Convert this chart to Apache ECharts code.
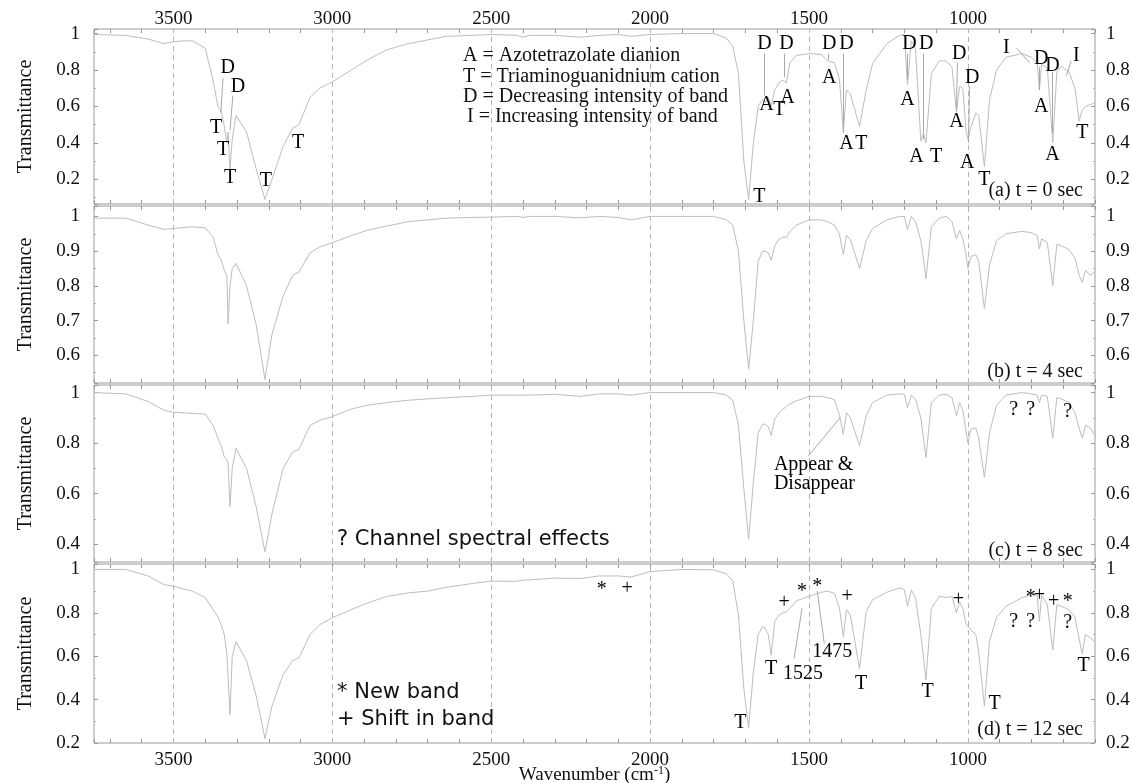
<!DOCTYPE html>
<html><head><meta charset="utf-8">
<script src="https://cdn.jsdelivr.net/npm/echarts@6/dist/echarts.min.js"></script>
<style>html,body{margin:0;padding:0;background:#fff}#c{width:1132px;height:783px}</style>
</head><body><div id="c"></div>
<script>
// ---------------- DATA ----------------
const wavenumbers = [
 3750, 3650, 3580, 3530, 3500, 3470, 3440, 3400, 3375, 3360,
 3350, 3340, 3332, 3328, 3322, 3315, 3303, 3270, 3240, 3212,
 3190, 3155, 3125, 3105, 3070, 3040, 3000, 2940, 2890, 2830,
 2760, 2700, 2640, 2560, 2500, 2420, 2400, 2380, 2300, 2220,
 2160, 2100, 2060, 2000, 1900, 1800, 1760, 1740, 1722, 1705,
 1690, 1675, 1660, 1646, 1638, 1628, 1619, 1608, 1594, 1582,
 1571, 1560, 1540, 1500, 1460, 1442, 1420, 1404, 1392, 1382,
 1370, 1341, 1320, 1300, 1255, 1215, 1200, 1190, 1178, 1165,
 1148, 1140, 1132, 1115, 1090, 1068, 1050, 1036, 1026, 1016,
 1006, 1000, 990, 975, 966, 948, 932, 910, 880, 830,
 800, 782, 775, 768, 750, 733, 720, 706, 682, 663,
 650, 640, 630, 615, 600];

const transA = [
 0.995, 0.99, 0.97, 0.945, 0.955, 0.96, 0.96, 0.92, 0.74, 0.60,
 0.575, 0.49, 0.40, 0.46, 0.25, 0.42, 0.55, 0.46, 0.26, 0.09,
 0.20, 0.38, 0.48, 0.50, 0.65, 0.70, 0.735, 0.80, 0.855, 0.91,
 0.945, 0.965, 0.985, 0.99, 0.995, 0.99, 0.98, 0.99, 0.99, 0.98,
 0.99, 0.995, 0.985, 0.995, 1.0, 1.0, 0.975, 0.93, 0.78, 0.30,
 0.09, 0.40, 0.60, 0.64, 0.62, 0.65, 0.60, 0.69, 0.73, 0.745,
 0.73, 0.84, 0.88, 0.89, 0.885, 0.85, 0.84, 0.745, 0.46, 0.69,
 0.67, 0.49, 0.69, 0.835, 0.945, 0.99, 0.995, 0.72, 0.96, 0.92,
 0.41, 0.45, 0.40, 0.78, 0.85, 0.85, 0.815, 0.57, 0.71, 0.70,
 0.47, 0.42, 0.49, 0.565, 0.55, 0.27, 0.635, 0.80, 0.87, 0.89,
 0.87, 0.84, 0.69, 0.83, 0.81, 0.40, 0.79, 0.82, 0.79, 0.70,
 0.52, 0.58, 0.60, 0.61, 0.62];

const transB = [
 0.995, 0.995, 0.975, 0.963, 0.965, 0.968, 0.97, 0.967, 0.94, 0.89,
 0.875, 0.845, 0.83, 0.69, 0.80, 0.85, 0.865, 0.80, 0.69, 0.53,
 0.66, 0.77, 0.83, 0.84, 0.895, 0.912, 0.924, 0.945, 0.96, 0.972,
 0.985, 0.99, 0.995, 0.997, 0.998, 1.0, 0.997, 1.0, 1.0, 0.996,
 1.0, 0.997, 0.99, 1.0, 1.0, 1.0, 0.99, 0.975, 0.90, 0.70,
 0.56, 0.70, 0.87, 0.90, 0.90, 0.895, 0.873, 0.915, 0.935, 0.94,
 0.94, 0.957, 0.975, 0.99, 0.99, 0.985, 0.975, 0.948, 0.89, 0.945,
 0.934, 0.85, 0.93, 0.965, 0.99, 1.0, 1.0, 0.962, 1.0, 0.985,
 0.93, 0.88, 0.82, 0.97, 0.995, 1.0, 0.985, 0.935, 0.96, 0.935,
 0.89, 0.85, 0.885, 0.89, 0.87, 0.735, 0.86, 0.93, 0.95, 0.957,
 0.953, 0.945, 0.906, 0.935, 0.925, 0.80, 0.92, 0.915, 0.905, 0.88,
 0.83, 0.81, 0.845, 0.83, 0.84];

const transC = [
 1.0, 0.995, 0.965, 0.93, 0.922, 0.92, 0.918, 0.915, 0.87, 0.82,
 0.79, 0.745, 0.735, 0.72, 0.55, 0.70, 0.78, 0.70, 0.55, 0.37,
 0.52, 0.70, 0.765, 0.775, 0.87, 0.89, 0.905, 0.935, 0.95, 0.96,
 0.97, 0.975, 0.98, 0.985, 0.99, 0.99, 0.99, 0.99, 0.993, 0.985,
 0.995, 0.995, 0.99, 1.0, 1.0, 1.0, 0.99, 0.97, 0.87, 0.62,
 0.42, 0.645, 0.84, 0.875, 0.875, 0.865, 0.83, 0.895, 0.92, 0.934,
 0.945, 0.955, 0.967, 0.985, 0.985, 0.98, 0.972, 0.91, 0.835, 0.92,
 0.90, 0.79, 0.91, 0.96, 0.99, 0.995, 0.993, 0.94, 0.99, 0.975,
 0.90, 0.82, 0.743, 0.96, 0.99, 0.993, 0.98, 0.908, 0.96, 0.93,
 0.85, 0.80, 0.855, 0.86, 0.82, 0.665, 0.84, 0.95, 0.99, 1.0,
 0.995, 0.99, 0.96, 0.99, 0.985, 0.82, 0.98, 0.975, 0.96, 0.92,
 0.86, 0.82, 0.87, 0.86, 0.83];

const transD = [
 1.0, 1.0, 0.97, 0.93, 0.923, 0.91, 0.90, 0.87, 0.815, 0.78,
 0.746, 0.70, 0.61, 0.50, 0.33, 0.60, 0.666, 0.58, 0.42, 0.22,
 0.37, 0.515, 0.58, 0.592, 0.70, 0.745, 0.777, 0.815, 0.845, 0.875,
 0.892, 0.90, 0.918, 0.935, 0.946, 0.945, 0.95, 0.952, 0.96, 0.958,
 0.97, 0.97, 0.965, 0.99, 1.0, 0.998, 0.98, 0.946, 0.79, 0.45,
 0.27, 0.527, 0.70, 0.736, 0.73, 0.70, 0.605, 0.76, 0.79, 0.80,
 0.805, 0.82, 0.855, 0.876, 0.895, 0.90, 0.89, 0.82, 0.69, 0.815,
 0.79, 0.543, 0.806, 0.86, 0.895, 0.915, 0.907, 0.83, 0.905, 0.87,
 0.70, 0.60, 0.49, 0.82, 0.876, 0.87, 0.876, 0.80, 0.85, 0.82,
 0.75, 0.744, 0.72, 0.70, 0.62, 0.37, 0.667, 0.78, 0.83, 0.87,
 0.884, 0.88, 0.76, 0.88, 0.837, 0.628, 0.837, 0.83, 0.814, 0.78,
 0.68, 0.61, 0.70, 0.685, 0.667];

const xTickLabels = [3500, 3000, 2500, 2000, 1500, 1000];
const yTickSteps = [0.2, 0.1, 0.2, 0.2];
const yRanges = [[0.065, 1.025], [0.52, 1.03], [0.33, 1.03], [0.2, 1.025]];
const panelTitles = ['(a) t = 0 sec', '(b) t = 4 sec', '(c) t = 8 sec', '(d) t = 12 sec'];
const legendLines = ['A = Azotetrazolate dianion', 'T = Triaminoguanidnium cation',
  'D = Decreasing intensity of band', 'I = Increasing intensity of band'];

// ---------------- ANNOTATIONS (text, wavenumber, transmittance) ----------------
const notesA = [
 ['D',3329,0.81],['D',3297,0.706],['T',3366,0.483],['T',3344,0.363],['T',3322,0.21],['T',3209,0.19],['T',3108,0.40],
 ['D',1640,0.946],['D',1571,0.946],['A',1634,0.61],['T',1593,0.58],['A',1568,0.65],['T',1656,0.107],
 ['D',1436,0.946],['D',1382,0.946],['A',1436,0.76],['A',1382,0.396],['T',1335,0.396],
 ['D',1184,0.946],['D',1131,0.946],['A',1190,0.635],['A',1162,0.325],['T',1100,0.325],
 ['D',1027,0.89],['D',986,0.76],['A',1036,0.515],['A',1002,0.29],['T',948,0.20],
 ['I',879,0.92],['D',769,0.864],['D',734,0.826],['I',659,0.88],['A',769,0.60],['A',734,0.335],['T',640,0.455]];
const leadersA = [
 [3344,0.755,3351,0.565],[3313,0.66,3322,0.47],[1640,0.89,1640,0.66],[1577,0.89,1577,0.76],
 [1440,0.89,1440,0.855],[1392,0.89,1392,0.455],[1190,0.89,1190,0.745],[1140,0.89,1140,0.42],
 [1033,0.84,1036,0.58],[995,0.71,998,0.40],[847,0.92,806,0.84],[775,0.815,775,0.69],
 [734,0.79,734,0.455],[675,0.85,690,0.77]];
const notesC = [['?',856,0.934],['?',802,0.934],['?',686,0.924]];
const appearText = ['Appear &', 'Disappear'];
const appearPos = [[1612,0.715],[1612,0.64]];
const leadersC = [[1502,0.75,1402,0.90]];
const notesD = [
 ['*',2152,0.907],['+',2072,0.91],['+',1578,0.845],['*',1522,0.896],['*',1474,0.922],['+',1380,0.876],
 ['+',1030,0.86],['*',802,0.87],['+',775,0.88],['+',730,0.853],['*',686,0.853],
 ['?',856,0.76],['?',802,0.76],['?',686,0.752],
 ['T',1716,0.295],['T',1619,0.543],['1525',1519,0.52],['1475',1427,0.62],
 ['T',1336,0.473],['T',1127,0.434],['T',916,0.38],['T',636,0.558]];
const leadersD = [[1547,0.59,1522,0.82],[1452,0.66,1474,0.90]];

// ---------------- LAYOUT / STYLE ----------------
const SERIF = "'Liberation Serif', 'Times New Roman', serif";
const SANS = "'DejaVu Sans', Verdana, sans-serif";
const gridBoxes = [{top:29,height:175},{top:206,height:177},{top:385,height:177},{top:564,height:179}];
const spectra = [transA, transB, transC, transD];
const noteSets = [notesA, [], notesC, notesD];
const leaderSets = [leadersA, [], leadersC, leadersD];
const LINE = '#bdbdbd';

function fmtY(step){
  return v => {
    const k = v / step;
    if (Math.abs(k - Math.round(k)) > 1e-6) return '';
    return String(Math.round(v * 100) / 100);
  };
}

const grid = [], xAxis = [], yAxis = [], series = [];
gridBoxes.forEach((g, p) => {
  grid.push({left:94, right:37, top:g.top, height:g.height, show:true, borderColor:'#9a9a9a', borderWidth:1,
    backgroundColor:'#fff', containLabel:false, outerBoundsMode:'none'});
  ['bottom','top'].forEach(pos => {
    const showLab = (p === 0 && pos === 'top') || (p === 3 && pos === 'bottom');
    const ax = {
      type:'value', gridIndex:p, position:pos, min:600, max:3750, interval:100, inverse:true,
      axisLine:{show:false}, splitLine:{show:false},
      axisTick:{show:true, inside:true, length:4, lineStyle:{color:'#9a9a9a'}},
      axisLabel:{show:showLab, margin: pos === 'top' ? 0 : 8, color:'#111', fontFamily:SERIF, fontSize:19,
        formatter: v => xTickLabels.includes(v) ? String(v) : ''}
    };
    if (p === 3 && pos === 'bottom') {
      ax.name = 'Wavenumber (cm{sup|-1})';
      ax.nameLocation = 'middle';
      ax.nameGap = 22;
      ax.nameMoveOverlap = false;
      ax.nameTextStyle = {fontFamily:SERIF, fontSize:19, color:'#111', verticalAlign:'top',
        rich:{sup:{fontFamily:SERIF, fontSize:12, verticalAlign:'top', padding:[0,0,9,0], color:'#111'}}};
    }
    xAxis.push(ax);
  });
  ['left','right'].forEach(pos => {
    const ax = {
      type:'value', gridIndex:p, position:pos, min:yRanges[p][0], max:yRanges[p][1],
      splitNumber: p === 1 ? 5 : (p === 0 ? 5 : 4),
      axisLine:{show:false}, splitLine:{show:false},
      axisTick:{show:true, inside:true, length:4, lineStyle:{color:'#9a9a9a'}},
      minorTick:{show:true, splitNumber:2, length:2, lineStyle:{color:'#b0b0b0'}},
      axisLabel:{show:true, margin: pos === 'left' ? 14 : 11, color:'#111', fontFamily:SERIF, fontSize:19,
        formatter: fmtY(yTickSteps[p])}
    };
    if (pos === 'left') {
      ax.name = 'Transmittance';
      ax.nameLocation = 'middle';
      ax.nameGap = 58;
      ax.nameTextStyle = {fontFamily:SERIF, fontSize:20, color:'#111'};
    }
    yAxis.push(ax);
  });

  series.push({
    type:'line', xAxisIndex:2*p, yAxisIndex:2*p, showSymbol:false, symbol:'none', silent:true,
    lineStyle:{color:LINE, width:1}, z:3,
    data: wavenumbers.map((w, i) => [w, spectra[p][i]]),
    markLine:{silent:true, symbol:['none','none'], label:{show:false}, animation:false,
      lineStyle:{color:'#b5b5b5', type:[5,4], width:1}, z:1,
      data: xTickLabels.map(v => ({xAxis:v}))}
  });

  const notes = noteSets[p].map(n => ({name:n[0], value:[n[1], n[2]]}));
  if (p === 2) appearText.forEach((t, i) => notes.push({name:t, value:appearPos[i],
    label:{position:'right', distance:0, align:'left'}}));
  series.push({
    type:'scatter', xAxisIndex:2*p, yAxisIndex:2*p, symbol:'circle', symbolSize:1, silent:true, z:5,
    itemStyle:{color:'rgba(0,0,0,0)'},
    label:{show:true, position:'inside', formatter:'{b}', color:'#000', opacity:1, fontFamily:SERIF,
      fontSize: 20, textBorderWidth:0},
    data: notes,
    markLine:{silent:true, symbol:['none','none'], label:{show:false}, animation:false,
      lineStyle:{color:'#a8a8a8', type:'solid', width:1},
      data: leaderSets[p].map(l => [{coord:[l[0], l[1]]}, {coord:[l[2], l[3]]}])}
  });
});

const graphic = [];
legendLines.forEach((t, i) => graphic.push({type:'text', left: i === 3 ? 467 : 463, top: 46 + i*20.3,
  style:{text:t, font:'20px ' + SERIF, fill:'#111'}, z:10}));
const titleY = [181, 362, 541, 720];
panelTitles.forEach((t, i) => graphic.push({type:'text', right:49, top:titleY[i],
  style:{text:t, font:'20px ' + SERIF, fill:'#111', textAlign:'right'}, z:10}));
graphic.push({type:'text', left:337, top:529, style:{text:'? Channel spectral effects', font:'21px ' + SANS, fill:'#111'}, z:10});
graphic.push({type:'text', left:337, top:682, style:{text:'* New band', font:'21px ' + SANS, fill:'#111'}, z:10});
graphic.push({type:'text', left:337, top:709, style:{text:'+ Shift in band', font:'21px ' + SANS, fill:'#111'}, z:10});

const chart = echarts.init(document.getElementById('c'), null, {renderer:'canvas'});
chart.setOption({animation:false, backgroundColor:'#fff', grid, xAxis, yAxis, series, graphic});
</script>
</body></html>
